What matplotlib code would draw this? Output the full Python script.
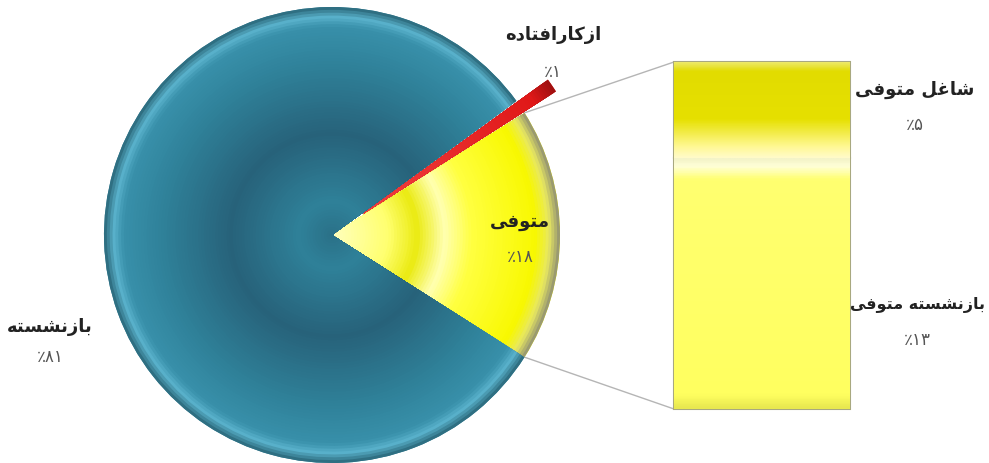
import numpy as np
import matplotlib.pyplot as plt
from matplotlib.patches import Wedge
from matplotlib.colors import LinearSegmentedColormap

# pie data
pie_labels = ['متوفی', 'ازکارافتاده', 'بازنشسته']
pie_values = [18, 1, 81]
# bar (breakdown of متوفی)
bar_labels = ['بازنشسته متوفی', 'شاغل متوفی']
bar_values = [13, 5]

# Persian letters -> (isolated, final, initial, medial)
FORMS = {
    'ا': ('\uFE8D', '\uFE8E', None, None),
    'ب': ('\uFE8F', '\uFE90', '\uFE91', '\uFE92'),
    'ت': ('\uFE95', '\uFE96', '\uFE97', '\uFE98'),
    'د': ('\uFEA9', '\uFEAA', None, None),
    'ر': ('\uFEAD', '\uFEAE', None, None),
    'ز': ('\uFEAF', '\uFEB0', None, None),
    'س': ('\uFEB1', '\uFEB2', '\uFEB3', '\uFEB4'),
    'ش': ('\uFEB5', '\uFEB6', '\uFEB7', '\uFEB8'),
    'غ': ('\uFECD', '\uFECE', '\uFECF', '\uFED0'),
    'ف': ('\uFED1', '\uFED2', '\uFED3', '\uFED4'),
    'ک': ('\uFB8E', '\uFB8F', '\uFB90', '\uFB91'),
    'ل': ('\uFEDD', '\uFEDE', '\uFEDF', '\uFEE0'),
    'م': ('\uFEE1', '\uFEE2', '\uFEE3', '\uFEE4'),
    'ن': ('\uFEE5', '\uFEE6', '\uFEE7', '\uFEE8'),
    'ه': ('\uFEE9', '\uFEEA', '\uFEEB', '\uFEEC'),
    'و': ('\uFEED', '\uFEEE', None, None),
    'ی': ('\uFBFC', '\uFBFD', '\uFBFE', '\uFBFF'),
}


def shape(text):
    out = []
    for i, ch in enumerate(text):
        if ch not in FORMS:
            out.append(ch)
            continue
        prev = text[i - 1] if i > 0 else None
        nxt = text[i + 1] if i + 1 < len(text) else None
        jp = prev in FORMS and FORMS[prev][2] is not None
        jn = FORMS[ch][2] is not None and nxt in FORMS
        iso, fin, ini, med = FORMS[ch]
        if jp and jn:
            out.append(med)
        elif jp:
            out.append(fin)
        elif jn:
            out.append(ini)
        else:
            out.append(iso)
    return ''.join(reversed(out))


def fa_pct(v):
    digits = str(v).translate(str.maketrans('0123456789', '۰۱۲۳۴۵۶۷۸۹'))
    return '٪' + digits


plt.rcParams['font.family'] = ['DejaVu Sans']

fig = plt.figure(figsize=(9.89, 4.64), dpi=100)
ax = fig.add_axes([0, 0, 1, 1])

cx, cy, R = 332, 228, 228
start = -pie_values[0] / sum(pie_values) * 180

wedges, _ = ax.pie(pie_values, colors=['#ffff00', '#e0201e', '#2f8098'],
                   startangle=start, counterclock=True, radius=R, center=(cx, cy),
                   explode=[0, 38, 0], frame=True,
                   wedgeprops=dict(linewidth=0))

# radial shading
teal = LinearSegmentedColormap.from_list('teal', [
    (0.0, '#2a7087'), (0.15, '#2f8199'), (0.45, '#27627a'), (0.75, '#2f8199'),
    (0.92, '#3890aa'), (0.965, '#58b0ca'), (1.0, '#2f6f82')])
yel = LinearSegmentedColormap.from_list('yel', [
    (0.0, '#ffffc0'), (0.25, '#ffff70'), (0.38, '#eaea10'), (0.5, '#ffffb0'),
    (0.62, '#ffff40'), (0.9, '#f8f800'), (0.96, '#e8e860'), (1.0, '#9a9a70')])
red = LinearSegmentedColormap.from_list('red', [
    (0.0, '#f04040'), (0.9, '#e01818'), (1.0, '#a01010')])

for w, cmap in zip(wedges, [yel, red, teal]):
    c = w.center
    for f in np.linspace(1, 0.01, 80):
        ax.add_patch(Wedge(c, R * f, w.theta1, w.theta2, color=cmap(f), lw=0, zorder=2))

# connector lines from yellow wedge to bar
bar_x, bar_w = 762, 176
bar_bottom = 54
scale = 401 - bar_bottom
total = sum(bar_values)
yw = wedges[0]
for ang, by in [(yw.theta2, bar_bottom + scale), (yw.theta1, bar_bottom)]:
    px = cx + R * np.cos(np.radians(ang))
    py = cy + R * np.sin(np.radians(ang))
    ax.plot([px, bar_x - bar_w / 2], [py, by], color='#b5b5b5', lw=1, zorder=1)

heights = [v / total * scale for v in bar_values]
bottoms = [bar_bottom, bar_bottom + heights[0]]
bars = ax.bar([bar_x, bar_x], heights, bottom=bottoms, width=bar_w,
              color=['#ffff66', '#e4de00'], edgecolor='#a8a880', linewidth=1.5, zorder=3)

grads = [
    LinearSegmentedColormap.from_list('b1', [(0, '#e8e850'), (0.05, '#ffff60'),
                                             (0.92, '#ffff70'), (0.975, '#ffffd8'), (1, '#f4f4c8')]),
    LinearSegmentedColormap.from_list('b2', [(0, '#fffbc8'), (0.12, '#fff890'),
                                             (0.4, '#e6e000'), (0.9, '#e2dc00'), (1, '#eeea70')]),
]
for b, g in zip(bars, grads):
    x0, y0, bw, bh = b.get_x(), b.get_y(), b.get_width(), b.get_height()
    im = ax.imshow(np.linspace(0, 1, 100).reshape(-1, 1), cmap=g, origin='lower',
                   extent=[x0, x0 + bw, y0, y0 + bh], aspect='auto', zorder=3.5)
    im.set_clip_path(b)

# labels
lab = dict(ha='center', va='center', color='#222222', fontsize=13, fontweight='bold', zorder=5)
pct = dict(ha='center', va='center', color='#555555', fontsize=12, zorder=5)

ax.text(553, 429, shape(pie_labels[1]), **lab)
ax.text(553, 392, fa_pct(pie_values[1]), **pct)
ax.text(520, 242, shape(pie_labels[0]), **lab)
ax.text(520, 207, fa_pct(pie_values[0]), **pct)
ax.text(50, 137, shape(pie_labels[2]), **lab)
ax.text(50, 107, fa_pct(pie_values[2]), **pct)
ax.text(915, 374, shape(bar_labels[1]), **lab)
ax.text(915, 339, fa_pct(bar_values[1]), **pct)
ax.text(917, 159, shape(bar_labels[0]), **dict(lab, fontsize=11.5))
ax.text(917, 124, fa_pct(bar_values[0]), **pct)

ax.set_xlim(0, 989)
ax.set_ylim(0, 464)
ax.set_aspect('auto')
ax.axis('off')

fig.savefig('out.png', dpi=100)
